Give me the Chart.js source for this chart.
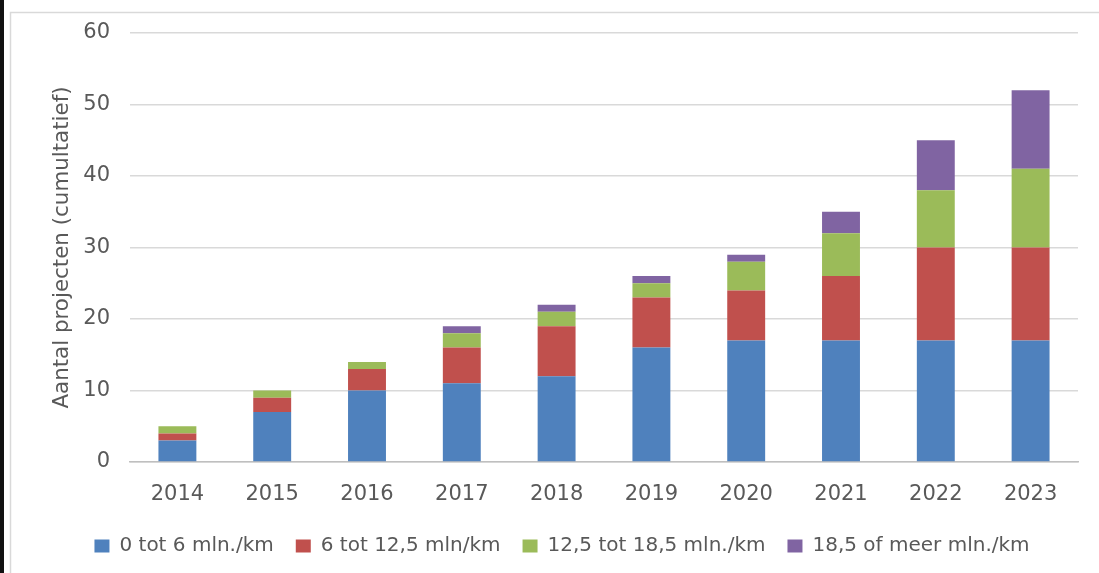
<!DOCTYPE html>
<html>
<head>
<meta charset="utf-8">
<script src="https://cdn.jsdelivr.net/npm/chart.js@4.4.1/dist/chart.umd.min.js"></script>
<style>
  html, body { margin: 0; padding: 0; background: #fff; }
  #wrap { position: relative; width: 1099px; height: 573px; }
</style>
</head>
<body>
<div id="wrap"><canvas id="projectChart" width="1099" height="573"></canvas></div>
<script>
// Aantal projecten per jaar, cumulatief, per kostenklasse
const years = ["2014", "2015", "2016", "2017", "2018", "2019", "2020", "2021", "2022", "2023"];
const klasse0tot6 = [3, 7, 10, 11, 12, 16, 17, 17, 17, 17];
const klasse6tot12 = [1, 2, 3, 5, 7, 7, 7, 9, 13, 13];
const klasse12tot18 = [1, 1, 1, 2, 2, 2, 4, 6, 8, 11];
const klasse18plus = [0, 0, 0, 1, 1, 1, 1, 3, 7, 11];
const seriesLabels = ["0 tot 6 mln./km", "6 tot 12,5 mln/km", "12,5 tot 18,5 mln./km", "18,5 of meer mln./km"];
const yTicks = [0, 10, 20, 30, 40, 50, 60];

const colors = ["#4f81bd", "#c0504d", "#9bbb59", "#8064a2"];
const textColor = "#595959";

// kader om de grafiek heen
const framePlugin = {
  id: "frame",
  beforeDraw(chart) {
    const ctx = chart.ctx;
    ctx.save();
    ctx.fillStyle = "#fff";
    ctx.fillRect(0, 0, chart.width, chart.height);
    ctx.fillStyle = "#111";
    ctx.fillRect(0, 0, 4, chart.height);
    ctx.strokeStyle = "#d9d9d9";
    ctx.lineWidth = 1.5;
    ctx.strokeRect(10.5, 12.5, chart.width + 20, chart.height + 20);
    ctx.restore();
  },
};

const ctx = document.getElementById("projectChart").getContext("2d");
new Chart(ctx, {
  type: "bar",
  data: {
    labels: years,
    datasets: [klasse0tot6, klasse6tot12, klasse12tot18, klasse18plus].map((d, i) => ({
      label: seriesLabels[i],
      data: d,
      backgroundColor: colors[i],
      borderWidth: 0,
      barPercentage: 0.5,
      categoryPercentage: 0.8,
    })),
  },
  options: {
    responsive: false,
    animation: false,
    layout: { padding: { left: 46, right: 21, top: 33, bottom: 7 } },
    plugins: {
      legend: {
        position: "bottom",
        labels: {
          color: textColor,
          boxWidth: 15,
          boxHeight: 13,
          padding: 22,
          font: { family: "DejaVu Sans", size: 20 },
        },
      },
      tooltip: { enabled: false },
    },
    scales: {
      x: {
        stacked: true,
        grid: { display: false },
        border: { color: "#bfbfbf", width: 1.5 },
        afterFit: (scale) => { scale.height = 52; },
        ticks: { color: textColor, padding: 12, font: { family: "DejaVu Sans", size: 21 } },
      },
      y: {
        stacked: true,
        min: 0,
        max: 60,
        afterBuildTicks: (scale) => { scale.ticks = yTicks.map((v) => ({ value: v })); },
        afterFit: (scale) => { scale.width = 84; },
        grid: { color: "#d9d9d9", lineWidth: 1.5, drawTicks: false },
        border: { display: false },
        ticks: { color: textColor, padding: 20, font: { family: "DejaVu Sans", size: 21 } },
        title: {
          display: true,
          text: "Aantal projecten (cumultatief)",
          color: textColor,
          padding: { top: 4, bottom: 3 },
          font: { family: "DejaVu Sans", size: 21.4 },
        },
      },
    },
  },
  plugins: [framePlugin],
});
</script>
</body>
</html>
